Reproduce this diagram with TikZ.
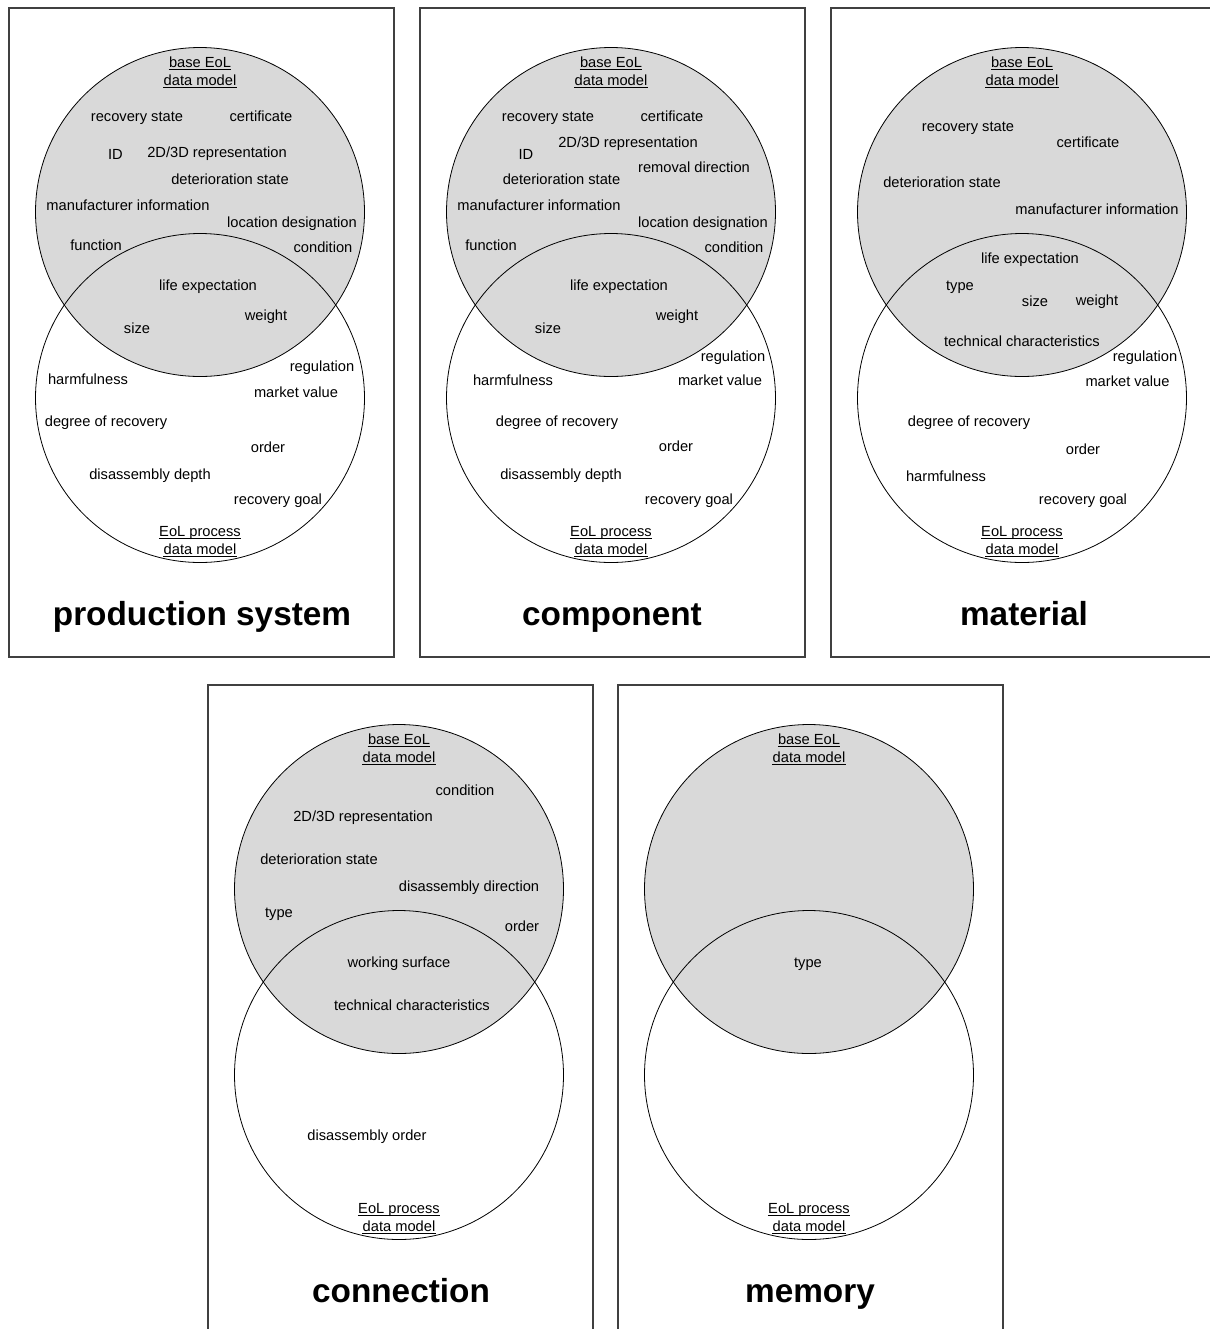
\documentclass[tikz,border=0pt]{standalone}
\usepackage{fontspec}
\setmainfont{Liberation Sans}
\definecolor{venngray}{HTML}{D9D9D9}
\definecolor{boxline}{HTML}{404040}
\tikzset{
  lbl/.style={font=\fontsize{11}{13.5}\selectfont, anchor=base, inner sep=0pt, yshift=-3.75pt},
  ttl/.style={font=\fontsize{25}{30}\selectfont\bfseries, anchor=base, inner sep=0pt},
  panelbox/.style={draw=boxline, line width=0.8pt},
  basecircle/.style={draw=black, fill=venngray, line width=0.6pt},
  proccircle/.style={draw=black, line width=0.6pt},
  underl/.style={draw=black, line width=0.6pt},
}
% one panel: frame plus the two overlapping data-model circles
\newcommand\vennpanel[2]{%
  \draw[panelbox] (#1,#2) rectangle ++(385,649);
  \fill[white] (#1+191,#2+390) circle[radius=164.5];
  \draw[basecircle] (#1+191,#2+204) circle[radius=164.5];
  \draw[proccircle] (#1+191,#2+390) circle[radius=164.5];
}
% underlined caption line
\newcommand\ulabel[3]{%
  \node[lbl] (#1) at (#2) {#3};
  \draw[underl] ([yshift=-1.6pt]#1.base west) -- ([yshift=-1.6pt]#1.base east);
}
% circle captions (two lines each)
\newcommand\vennlabels[3]{%
  \ulabel{#3b1}{#1,#2+62}{base EoL}
  \ulabel{#3b2}{#1,#2+80}{data model}
  \ulabel{#3p1}{#1,#2+531}{EoL process}
  \ulabel{#3p2}{#1,#2+549}{data model}
}
\begin{document}
\begin{tikzpicture}[x=0.75pt,y=-0.75pt]
\useasboundingbox (0,0) rectangle (1210,1329);
\clip (0,0) rectangle (1210,1329);

% ---------- production system ----------
\vennpanel{9}{8}
\vennlabels{200}{0}{ps}
\node[lbl] (ps1) at (137,116) {recovery state};
\node[lbl] (ps2) at (261,116) {certificate};
\node[lbl] (ps3) at (115.5,154) {ID};
\node[lbl] (ps4) at (217,152) {2D/3D representation};
\node[lbl] (ps5) at (230,179) {deterioration state};
\node[lbl] (ps6) at (128,205) {manufacturer information};
\node[lbl] (ps7) at (292,222) {location designation};
\node[lbl] (ps8) at (96,245) {function};
\node[lbl] (ps9) at (323,247) {condition};
\node[lbl] (ps10) at (208,285) {life expectation};
\node[lbl] (ps11) at (266,315) {weight};
\node[lbl] (ps12) at (137,328) {size};
\node[lbl] (ps13) at (322,366) {regulation};
\node[lbl] (ps14) at (88,379) {harmfulness};
\node[lbl] (ps15) at (296,392) {market value};
\node[lbl] (ps16) at (106,421) {degree of recovery};
\node[lbl] (ps17) at (268,447) {order};
\node[lbl] (ps18) at (150,474) {disassembly depth};
\node[lbl] (ps19) at (278,499) {recovery goal};
\node[ttl] (pst) at (202,625) {production system};

% ---------- component ----------
\vennpanel{420}{8}
\vennlabels{611}{0}{co}
\node[lbl] (co1) at (548,116) {recovery state};
\node[lbl] (co2) at (672,116) {certificate};
\node[lbl] (co3) at (628,142) {2D/3D representation};
\node[lbl] (co4) at (526,154) {ID};
\node[lbl] (co5) at (694,167) {removal direction};
\node[lbl] (co6) at (561.5,179) {deterioration state};
\node[lbl] (co7) at (539,205) {manufacturer information};
\node[lbl] (co8) at (703,222) {location designation};
\node[lbl] (co9) at (491,245) {function};
\node[lbl] (co10) at (734,247) {condition};
\node[lbl] (co11) at (619,285) {life expectation};
\node[lbl] (co12) at (677,315) {weight};
\node[lbl] (co13) at (548,328) {size};
\node[lbl] (co14) at (733,356) {regulation};
\node[lbl] (co15) at (513,380) {harmfulness};
\node[lbl] (co16) at (720,380) {market value};
\node[lbl] (co17) at (557,421) {degree of recovery};
\node[lbl] (co18) at (676,446) {order};
\node[lbl] (co19) at (561,474) {disassembly depth};
\node[lbl] (co20) at (689,499) {recovery goal};
\node[ttl] (cot) at (612,625) {component};

% ---------- material ----------
\vennpanel{831}{8}
\vennlabels{1022}{0}{ma}
\node[lbl] (ma1) at (968,126) {recovery state};
\node[lbl] (ma2) at (1088,142) {certificate};
\node[lbl] (ma3) at (942,182) {deterioration state};
\node[lbl] (ma4) at (1097,209) {manufacturer information};
\node[lbl] (ma5) at (1030,258) {life expectation};
\node[lbl] (ma6) at (960,285) {type};
\node[lbl] (ma7) at (1035,301) {size};
\node[lbl] (ma8) at (1097,300) {weight};
\node[lbl] (ma9) at (1022,341) {technical characteristics};
\node[lbl] (ma10) at (1145,356) {regulation};
\node[lbl] (ma11) at (1127.5,381) {market value};
\node[lbl] (ma12) at (969,421) {degree of recovery};
\node[lbl] (ma13) at (1083,449) {order};
\node[lbl] (ma14) at (946,476) {harmfulness};
\node[lbl] (ma15) at (1083,499) {recovery goal};
\node[ttl] (mat) at (1024,625) {material};

% ---------- connection ----------
\vennpanel{208}{685}
\vennlabels{399}{677}{cn}
\node[lbl] (cn1) at (465,790) {condition};
\node[lbl] (cn2) at (363,816) {2D/3D representation};
\node[lbl] (cn3) at (319,859) {deterioration state};
\node[lbl] (cn4) at (469,886) {disassembly direction};
\node[lbl] (cn5) at (279,912) {type};
\node[lbl] (cn6) at (522,926) {order};
\node[lbl] (cn7) at (399,962) {working surface};
\node[lbl] (cn8) at (412,1005) {technical characteristics};
\node[lbl] (cn9) at (367,1135) {disassembly order};
\node[ttl] (cnt) at (401,1302) {connection};

% ---------- memory ----------
\vennpanel{618}{685}
\vennlabels{809}{677}{me}
\node[lbl] (me1) at (808,962) {type};
\node[ttl] (met) at (810,1302) {memory};
\end{tikzpicture}
\end{document}
